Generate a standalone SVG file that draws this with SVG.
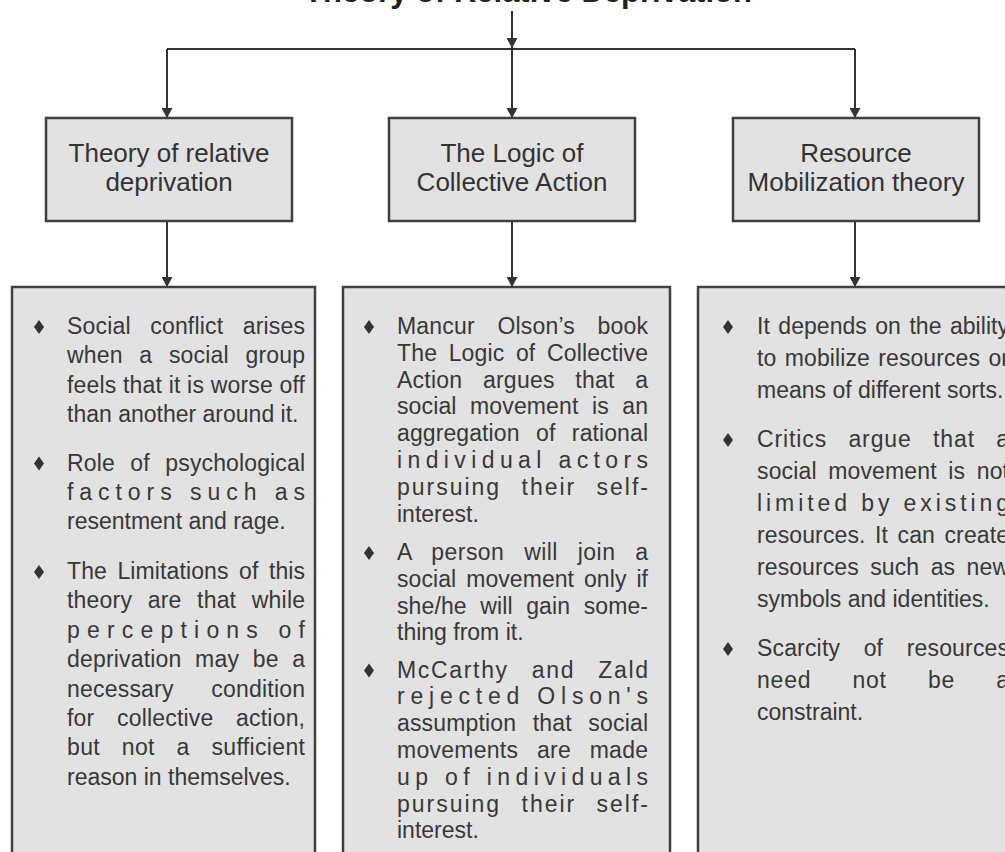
<svg xmlns="http://www.w3.org/2000/svg" width="1005" height="852" viewBox="0 0 1005 852">
<style>
.box{fill:#e2e2e2;stroke:#404040;stroke-width:2.5}
.lbl{font-family:"Liberation Sans",Arial,sans-serif;font-size:26px;fill:#333;text-anchor:middle}
.bt{font-family:"Liberation Sans",Arial,sans-serif;font-size:23px;fill:#383838}
.ttl{font-family:"Liberation Sans",Arial,sans-serif;font-size:31px;font-weight:bold;fill:#222;text-anchor:middle}
.conn{stroke:#333;stroke-width:2;fill:none}
.dia{fill:#333}
</style>
<defs>
<marker id="ah" viewBox="0 0 10 11" refX="10" refY="5.5" markerWidth="10" markerHeight="11" markerUnits="userSpaceOnUse" orient="auto"><path d="M0,0 L10,5.5 L0,11 z" fill="#333"/></marker>
<polygon id="dm" points="0,-7 5,0 0,7 -5,0"/>
</defs>
<rect width="1005" height="852" fill="#fff"/>

<g id="title"><text class="ttl" x="528" y="2">Theory of Relative Deprivation</text></g>

<g id="connectors">
<path class="conn" d="M512,11 V48" marker-end="url(#ah)"/>
<path class="conn" d="M167,49 H855"/>
<path class="conn" d="M167,49 V118" marker-end="url(#ah)"/>
<path class="conn" d="M512,49 V118" marker-end="url(#ah)"/>
<path class="conn" d="M855,49 V118" marker-end="url(#ah)"/>
<path class="conn" d="M167,221 V287" marker-end="url(#ah)"/>
<path class="conn" d="M512,221 V287" marker-end="url(#ah)"/>
<path class="conn" d="M855,221 V287" marker-end="url(#ah)"/>
</g>

<g id="node-relative-deprivation">
<rect class="box" x="46" y="118" width="246" height="103"/>
<text class="lbl" x="169" y="162">Theory of relative</text>
<text class="lbl" x="169" y="191">deprivation</text>
</g>
<g id="node-collective-action">
<rect class="box" x="389" y="118" width="246" height="103"/>
<text class="lbl" x="512" y="162">The Logic of</text>
<text class="lbl" x="512" y="191">Collective Action</text>
</g>
<g id="node-resource-mobilization">
<rect class="box" x="733" y="118" width="246" height="103"/>
<text class="lbl" x="856" y="162">Resource</text>
<text class="lbl" x="856" y="191">Mobilization theory</text>
</g>

<g id="detail-relative-deprivation">
<rect class="box" x="12" y="287" width="303" height="600"/>
<use href="#dm" class="dia" x="39" y="327"/>
<use href="#dm" class="dia" x="39" y="463.5"/>
<use href="#dm" class="dia" x="39" y="572"/>
<text class="bt" x="67" y="334" textLength="238" lengthAdjust="spacing" style="word-spacing:13px">Social conflict arises</text>
<text class="bt" x="67" y="363.4" textLength="238" lengthAdjust="spacing" style="word-spacing:10px">when a social group</text>
<text class="bt" x="67" y="392.8" textLength="238" lengthAdjust="spacing">feels that it is worse off</text>
<text class="bt" x="67" y="422.2">than another around it.</text>
<text class="bt" x="67" y="470.5" textLength="238" lengthAdjust="spacing" style="word-spacing:9px">Role of psychological</text>
<text class="bt" x="67" y="499.9" textLength="238" lengthAdjust="spacing">factors such as</text>
<text class="bt" x="67" y="529.3">resentment and rage.</text>
<text class="bt" x="67" y="579" textLength="238" lengthAdjust="spacing" style="word-spacing:4px">The Limitations of this</text>
<text class="bt" x="67" y="608.4" textLength="238" lengthAdjust="spacing" style="word-spacing:9px">theory are that while</text>
<text class="bt" x="67" y="637.8" textLength="238" lengthAdjust="spacing">perceptions of</text>
<text class="bt" x="67" y="667.2" textLength="238" lengthAdjust="spacing" style="word-spacing:7px">deprivation may be a</text>
<text class="bt" x="67" y="696.6" textLength="238" lengthAdjust="spacing" style="word-spacing:31px">necessary condition</text>
<text class="bt" x="67" y="726" textLength="238" lengthAdjust="spacing" style="word-spacing:16px">for collective action,</text>
<text class="bt" x="67" y="755.4" textLength="238" lengthAdjust="spacing" style="word-spacing:15px">but not a sufficient</text>
<text class="bt" x="67" y="784.8">reason in themselves.</text>
</g>

<g id="detail-collective-action">
<rect class="box" x="343" y="287" width="327" height="600"/>
<use href="#dm" class="dia" x="369" y="327"/>
<use href="#dm" class="dia" x="369" y="553"/>
<use href="#dm" class="dia" x="369" y="670.5"/>
<text class="bt" x="397" y="334" textLength="251" lengthAdjust="spacing" style="word-spacing:16px">Mancur Olson’s book</text>
<text class="bt" x="397" y="360.8" textLength="251" lengthAdjust="spacing" style="word-spacing:5px">The Logic of Collective</text>
<text class="bt" x="397" y="387.6" textLength="251" lengthAdjust="spacing" style="word-spacing:14px">Action argues that a</text>
<text class="bt" x="397" y="414.4" textLength="251" lengthAdjust="spacing" style="word-spacing:7px">social movement is an</text>
<text class="bt" x="397" y="441.2" textLength="251" lengthAdjust="spacing" style="word-spacing:10px">aggregation of rational</text>
<text class="bt" x="397" y="468" textLength="251" lengthAdjust="spacing">individual actors</text>
<text class="bt" x="397" y="494.8" textLength="251" lengthAdjust="spacing" style="word-spacing:12px">pursuing their self-</text>
<text class="bt" x="397" y="521.6">interest.</text>
<text class="bt" x="397" y="560" textLength="251" lengthAdjust="spacing" style="word-spacing:13px">A person will join a</text>
<text class="bt" x="397" y="586.8" textLength="251" lengthAdjust="spacing" style="word-spacing:3.5px">social movement only if</text>
<text class="bt" x="397" y="613.6" textLength="251" lengthAdjust="spacing" style="word-spacing:7px">she/he will gain some-</text>
<text class="bt" x="397" y="640.4">thing from it.</text>
<text class="bt" x="397" y="677.5" textLength="251" lengthAdjust="spacing" style="word-spacing:15px">McCarthy and Zald</text>
<text class="bt" x="397" y="704.3" textLength="251" lengthAdjust="spacing">rejected Olson's</text>
<text class="bt" x="397" y="731.1" textLength="251" lengthAdjust="spacing" style="word-spacing:10px">assumption that social</text>
<text class="bt" x="397" y="757.9" textLength="251" lengthAdjust="spacing" style="word-spacing:12px">movements are made</text>
<text class="bt" x="397" y="784.7" textLength="251" lengthAdjust="spacing">up of individuals</text>
<text class="bt" x="397" y="811.5" textLength="251" lengthAdjust="spacing" style="word-spacing:12px">pursuing their self-</text>
<text class="bt" x="397" y="838.3">interest.</text>
</g>

<g id="detail-resource-mobilization">
<rect class="box" x="698" y="287" width="330" height="600"/>
<use href="#dm" class="dia" x="728" y="327"/>
<use href="#dm" class="dia" x="728" y="440"/>
<use href="#dm" class="dia" x="728" y="649"/>
<text class="bt" x="757" y="334" textLength="252" lengthAdjust="spacing" style="word-spacing:2px">It depends on the ability</text>
<text class="bt" x="757" y="366" textLength="252" lengthAdjust="spacing" style="word-spacing:2px">to mobilize resources or</text>
<text class="bt" x="757" y="398">means of different sorts.</text>
<text class="bt" x="757" y="447" textLength="252" lengthAdjust="spacing" style="word-spacing:14px">Critics argue that a</text>
<text class="bt" x="757" y="479" textLength="252" lengthAdjust="spacing" style="word-spacing:5px">social movement is not</text>
<text class="bt" x="757" y="511" textLength="252" lengthAdjust="spacing">limited by existing</text>
<text class="bt" x="757" y="543" textLength="252" lengthAdjust="spacing" style="word-spacing:3px">resources. It can create</text>
<text class="bt" x="757" y="575" textLength="252" lengthAdjust="spacing" style="word-spacing:5px">resources such as new</text>
<text class="bt" x="757" y="607">symbols and identities.</text>
<text class="bt" x="757" y="656" textLength="252" lengthAdjust="spacing" style="word-spacing:17px">Scarcity of resources</text>
<text class="bt" x="757" y="688" textLength="252" lengthAdjust="spacing" style="word-spacing:34px">need not be a</text>
<text class="bt" x="757" y="720">constraint.</text>
</g>
</svg>
